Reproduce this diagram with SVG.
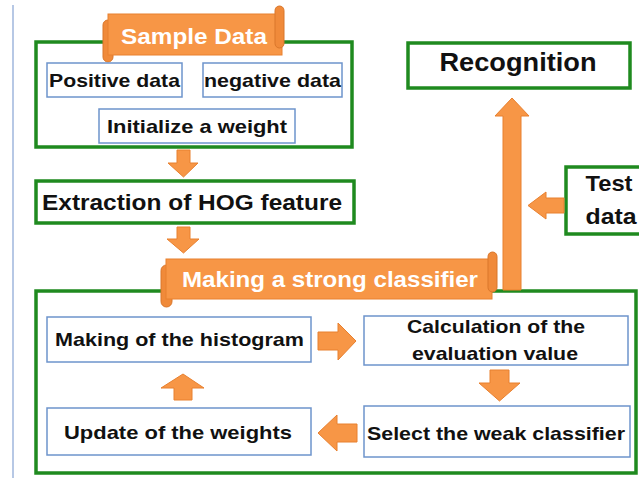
<svg xmlns="http://www.w3.org/2000/svg" width="639" height="478" viewBox="0 0 639 478">
<style>
.g{fill:#fff;stroke:#1f8a1f;stroke-width:3.5}
.b{fill:#fff;stroke:#6d94cc;stroke-width:1.5}
.o{fill:#f79646;stroke:#e8802f;stroke-width:1}
.t{font-family:"Liberation Sans",Arial,sans-serif;font-weight:bold;fill:#111;text-anchor:middle}
.w{font-family:"Liberation Sans",Arial,sans-serif;font-weight:bold;fill:#fff;text-anchor:middle}
.roll{fill:#f08a3a;stroke:#d9762a;stroke-width:1}
</style>
<line x1="13" y1="5" x2="13" y2="478" stroke="#9fb6dc" stroke-width="1.5"/>

<g id="sample-data">
  <rect class="g" x="36" y="42" width="316" height="105"/>
  <rect class="roll" x="103" y="20" width="10" height="42" rx="5"/>
  <rect class="o" x="108" y="14" width="174" height="41"/>
  <rect class="roll" x="275" y="6" width="9" height="42" rx="4.5"/>
  <text class="w" x="194" y="44" font-size="22" textLength="146" lengthAdjust="spacingAndGlyphs">Sample Data</text>
  <g id="positive-data">
    <rect class="b" x="47" y="63" width="135" height="34"/>
    <text class="t" x="114.5" y="87" font-size="19" textLength="131" lengthAdjust="spacingAndGlyphs">Positive data</text>
  </g>
  <g id="negative-data">
    <rect class="b" x="203" y="63" width="139" height="34"/>
    <text class="t" x="272.5" y="87" font-size="19" textLength="137" lengthAdjust="spacingAndGlyphs">negative data</text>
  </g>
  <g id="initialize-weight">
    <rect class="b" x="99" y="109" width="196" height="34"/>
    <text class="t" x="197" y="133" font-size="19" textLength="180" lengthAdjust="spacingAndGlyphs">Initialize a weight</text>
  </g>
</g>

<g id="hog">
  <rect class="g" x="36" y="181" width="318" height="42"/>
  <text class="t" x="192" y="210" font-size="22" textLength="300" lengthAdjust="spacingAndGlyphs">Extraction of HOG feature</text>
</g>

<g id="recognition">
  <rect class="g" x="408" y="43" width="222" height="45"/>
  <text class="t" x="518" y="71" font-size="26" textLength="157" lengthAdjust="spacingAndGlyphs">Recognition</text>
</g>

<g id="test-data">
  <rect class="g" x="566" y="167" width="80" height="67"/>
  <text class="t" x="609" y="191" font-size="22" textLength="47" lengthAdjust="spacingAndGlyphs">Test</text>
  <text class="t" x="611" y="224" font-size="22" textLength="51" lengthAdjust="spacingAndGlyphs">data</text>
</g>

<g id="strong-classifier">
  <rect class="g" x="36" y="291" width="600" height="182"/>
  <rect class="roll" x="161" y="265" width="11" height="42" rx="5.5"/>
  <rect class="o" x="166" y="259" width="326" height="40"/>
  <rect class="roll" x="488" y="252" width="9" height="40" rx="4.5"/>
  <text class="w" x="330" y="287" font-size="22" textLength="296" lengthAdjust="spacingAndGlyphs">Making a strong classifier</text>
  <g id="histogram">
    <rect class="b" x="47" y="317" width="264" height="45"/>
    <text class="t" x="179.5" y="346" font-size="19" textLength="249" lengthAdjust="spacingAndGlyphs">Making of the histogram</text>
  </g>
  <g id="evaluation">
    <rect class="b" x="364" y="316" width="264" height="49"/>
    <text class="t" x="496" y="333" font-size="19" textLength="178" lengthAdjust="spacingAndGlyphs">Calculation of the</text>
    <text class="t" x="495" y="360" font-size="19" textLength="166" lengthAdjust="spacingAndGlyphs">evaluation value</text>
  </g>
  <g id="weak-classifier">
    <rect class="b" x="364" y="406" width="266" height="51"/>
    <text class="t" x="496" y="440" font-size="19" textLength="258" lengthAdjust="spacingAndGlyphs">Select the weak classifier</text>
  </g>
  <g id="update-weights">
    <rect class="b" x="47" y="408" width="264" height="47"/>
    <text class="t" x="178" y="439" font-size="19" textLength="228" lengthAdjust="spacingAndGlyphs">Update of the weights</text>
  </g>
</g>

<g id="connectors">
  <polygon class="o" points="177,150 190,150 190,163 198,163 183.5,177 168,163 177,163"/>
  <polygon class="o" points="177,227 190,227 190,239 199,239 183.5,253 167,239 177,239"/>
  <polygon class="o" points="503,290 521,290 521,116 529,116 512,98 495,116 503,116"/>
  <polygon class="o" points="564,198 546,198 546,192 528,205.5 546,219 546,213 564,213"/>
  <polygon class="o" points="318,332 338,332 338,323 356,341 338,360 338,350 318,350"/>
  <polygon class="o" points="490,370 509,370 509,383 520,383 499.5,401 479,383 490,383"/>
  <polygon class="o" points="357,424 337,424 337,415 318,433 337,451 337,442 357,442"/>
  <polygon class="o" points="174,400 192,400 192,388 204,388 183,374 161,388 174,388"/>
</g>
</svg>
